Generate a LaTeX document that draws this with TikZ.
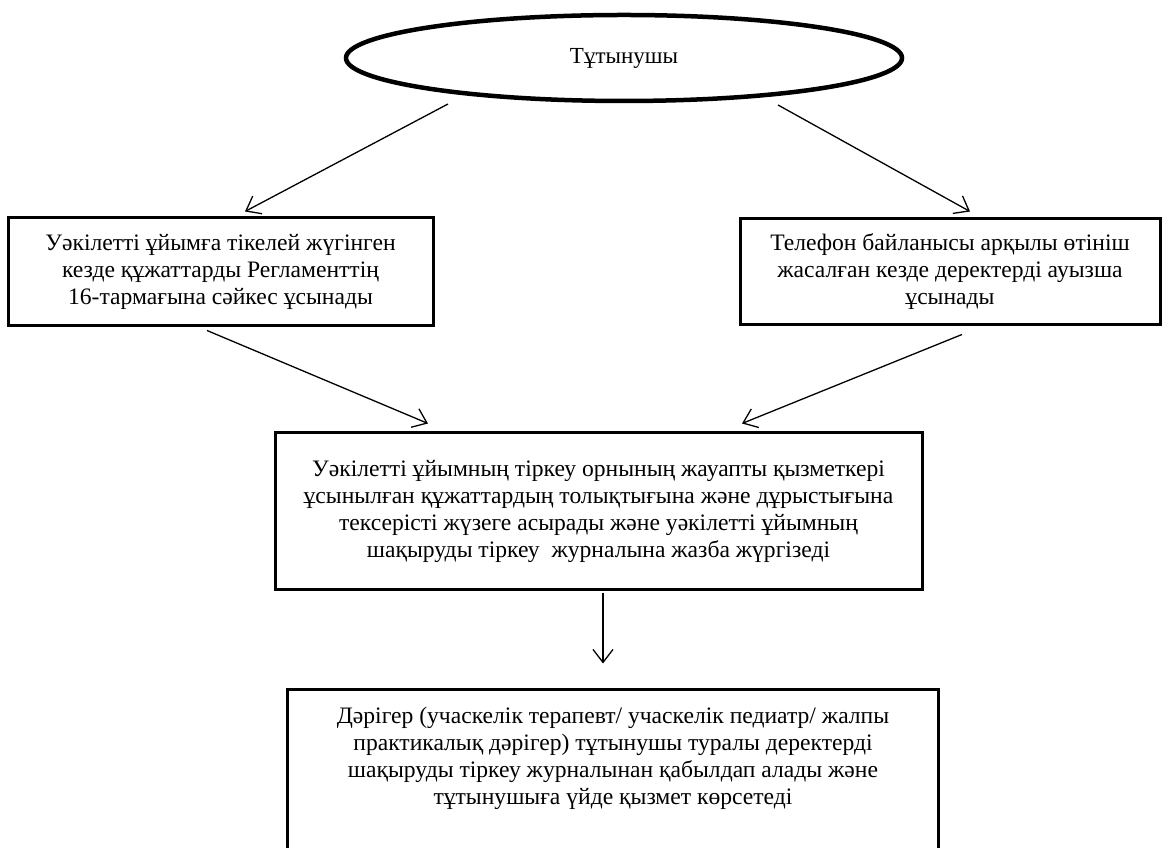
\documentclass[tikz,border=0pt]{standalone}
\usepackage{fontspec}
\setmainfont{Liberation Serif}
\usetikzlibrary{shapes.geometric,arrows.meta,calc}
\begin{document}
\begin{tikzpicture}[x=1pt,y=1pt,
  txtfont/.style={font=\fontsize{23.6}{27}\selectfont},
  box/.style={draw, line width=3pt, rectangle, inner sep=0pt, align=center, txtfont},
  conn/.style={line width=1.3pt, -{Straight Barb[length=13pt,width=20pt,line width=1.3pt]}}]
\useasboundingbox (0,0) rectangle (1164,848);
\clip (0,0) rectangle (1164,848);
\fill[white] (0,0) rectangle (1164,848);
\node[draw, ellipse, line width=4.5pt, minimum width=556pt, minimum height=86pt, inner sep=0pt,
      font=\fontsize{23}{24}\selectfont] (ell) at (624,790) {\raisebox{5pt}{Тұтынушы}};
\node[box, minimum width=425pt, minimum height=108pt] (lbox) at (220.5,576)
  {Уәкілетті ұйымға тікелей жүгінген\\кезде құжаттарды Регламенттің\\16-тармағына сәйкес ұсынады};
\node[box, minimum width=420pt, minimum height=106pt] (rbox) at (950,576)
  {Телефон байланысы арқылы өтініш\\жасалған кезде деректерді ауызша\\ұсынады};
\node[box, minimum width=647pt, minimum height=157pt] (mbox) at (598.5,336.5)
  {Уәкілетті ұйымның тіркеу орнының жауапты қызметкері\\ұсынылған құжаттардың толықтығына және дұрыстығына\\тексерісті жүзеге асырады және уәкілетті ұйымның\\шақыруды тіркеу\ \ журналына жазба жүргізеді};
\node[box, minimum width=651pt, minimum height=200pt] (bot) at (612.5,58) {};
\node[align=center, txtfont, inner sep=0pt] (bottxt) at (613,90)
  {Дәрігер (учаскелік терапевт/ учаскелік педиатр/ жалпы\\практикалық дәрігер) тұтынушы туралы деректерді\\шақыруды тіркеу журналынан қабылдап алады және\\тұтынушыға үйде қызмет көрсетеді};
\draw[conn] ($(ell.center)+(-176,-46)$) -- ($(lbox.north)+(24.5,5)$);
\draw[conn] ($(ell.center)+(154,-47)$) -- ($(rbox.north)+(20,6)$);
\draw[conn] ($(lbox.south)+(-13.5,-3)$) -- ($(mbox.north)+(-170.5,8)$);
\draw[conn] ($(rbox.south)+(12,-8)$) -- ($(mbox.north)+(143.5,8)$);
\draw[conn] ($(mbox.south)+(4.5,-2)$) -- ($(bot.north)+(-9.5,25)$);
\end{tikzpicture}
\end{document}
